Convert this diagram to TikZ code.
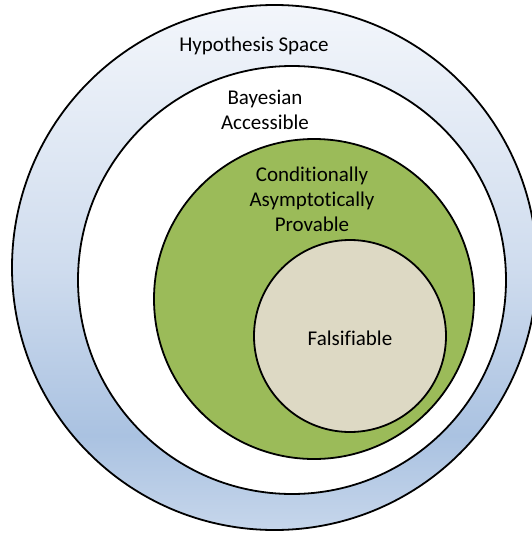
\documentclass[tikz,border=0pt]{standalone}
\usepackage{fontspec}
\setmainfont{Carlito}[RawFeature={-liga;-clig;-dlig}]
\definecolor{hyptop}{HTML}{F3F6FB}
\definecolor{hypmid}{HTML}{CFDCEE}
\definecolor{hypdeep}{HTML}{AAC2E1}
\definecolor{hypbot}{HTML}{C6D6EB}
\definecolor{provgreen}{HTML}{9BBB59}
\definecolor{falstan}{HTML}{DDD9C4}
\pgfdeclareverticalshading{hypfill}{100bp}{color(0bp)=(hypbot); color(25bp)=(hypbot); color(34bp)=(hypdeep); color(50bp)=(hypmid); color(75bp)=(hyptop); color(100bp)=(hyptop)}
\begin{document}
\begin{tikzpicture}[x=1pt, y=-1pt, line width=1.8pt, font=\fontsize{21}{25}\selectfont,
    set/.style={circle, draw, inner sep=0pt}]
    \useasboundingbox (0,0) rectangle (531,536);
    % nested sets
    \node (space) [set, shading=hypfill, minimum size=525pt] at (274.5,267.5) {};
    \node (bayes) [set, fill=white, minimum size=428pt] at (292,280) {};
    \node (prov) [set, fill=provgreen, minimum size=320pt] at (314,299) {};
    \node (fals) [set, fill=falstan, minimum size=192pt] at (350,336) {};
    % labels
    \node (spacelbl) at (254,46) {Hypothesis Space};
    \node (bayeslbl) [align=center] at (265,110) {Bayesian\\Accessible};
    \node (provlbl) [align=center] at (312,199) {Conditionally\\Asymptotically\\Provable};
    \node (falslbl) at (350,338) {Falsifiable};
\end{tikzpicture}
\end{document}
